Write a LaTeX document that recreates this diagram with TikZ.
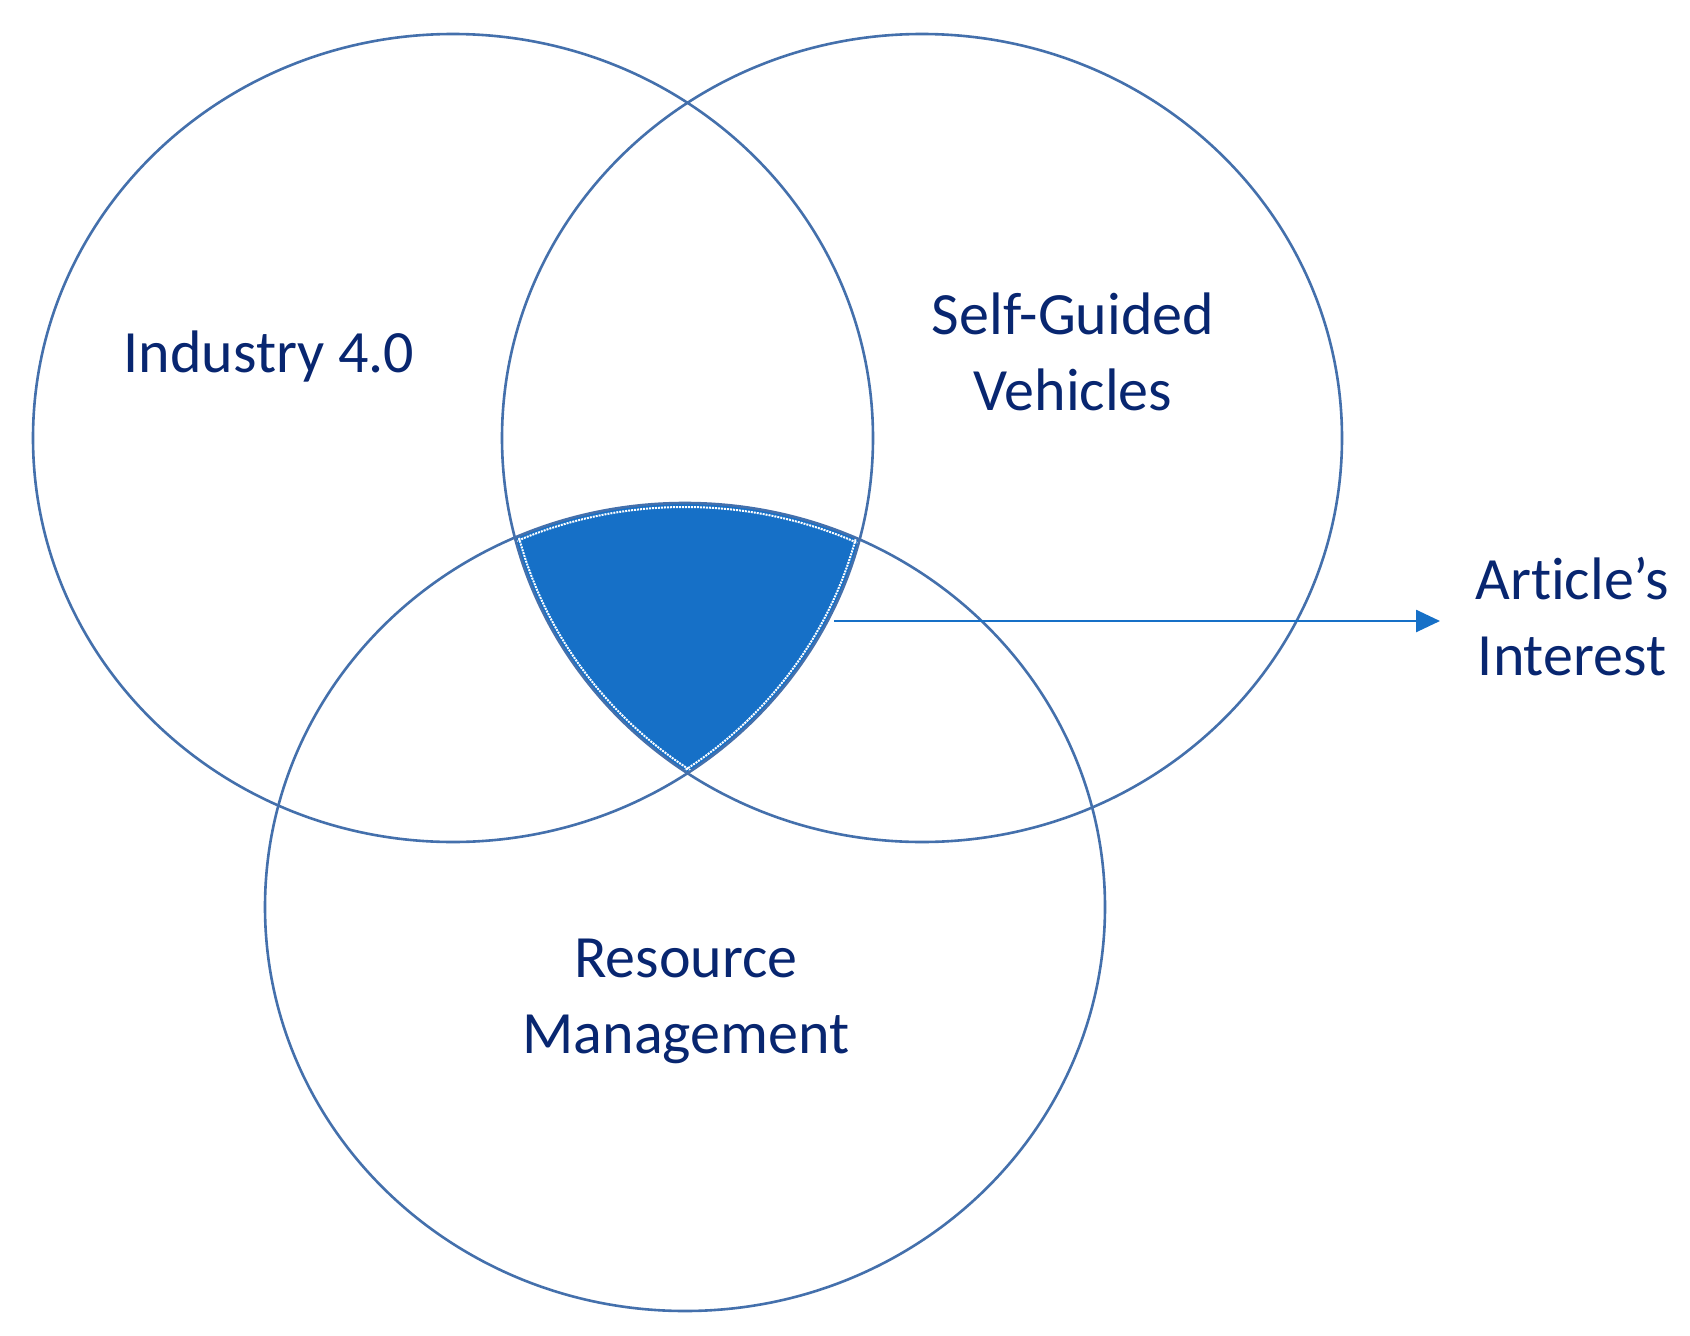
\documentclass[tikz,border=0pt]{standalone}
\usepackage{fontspec}
\setmainfont{Carlito}[Ligatures=NoCommon]
\usetikzlibrary{arrows.meta}
\definecolor{ringblue}{RGB}{68,112,172}
\definecolor{fillblue}{RGB}{22,112,199}
\definecolor{textblue}{RGB}{8,38,112}
\tikzset{
  ring/.style={draw=ringblue, line width=2.6pt},
  lbl/.style={text=textblue, font=\fontsize{60}{76}\selectfont, align=center, anchor=base, inner sep=0pt},
}
\begin{document}
\begin{tikzpicture}[x=1pt,y=-1pt]
\useasboundingbox[fill=white] (0,0) rectangle (1690,1336);
\coordinate (cL) at (453,438);
\coordinate (cR) at (922,438);
\coordinate (cB) at (685,907);
% shaded intersection
\begin{scope}
  \clip (cL) ellipse [x radius=420pt, y radius=404pt];
  \clip (cR) ellipse [x radius=420pt, y radius=404pt];
  \fill[fillblue] (cB) ellipse [x radius=420pt, y radius=404pt];
  \draw[white, line width=2pt, densely dotted] (cL) ellipse [x radius=416pt, y radius=400pt];
  \draw[white, line width=2pt, densely dotted] (cR) ellipse [x radius=416pt, y radius=400pt];
  \draw[white, line width=2pt, densely dotted] (cB) ellipse [x radius=416pt, y radius=400pt];
\end{scope}
% rings
\draw[ring] (cL) ellipse [x radius=420pt, y radius=404pt];
\draw[ring] (cR) ellipse [x radius=420pt, y radius=404pt];
\draw[ring] (cB) ellipse [x radius=420pt, y radius=404pt];
% labels (anchor = baseline of last line)
\node[lbl] (ind) at (269,372) {Industry 4.0};
\node[lbl] (sgv) at (1073,410) {Self-Guided\\Vehicles};
\node[lbl] (res) at (686,1053) {Resource\\Management};
\node[lbl] (art) at (1572,675) {Article’s\\Interest};
% arrow
\coordinate (astart) at (834,621);
\coordinate (aend) at (1440,621);
\draw[fillblue, line width=2.6pt, -{Triangle[length=24pt,width=22pt]}] (astart) -- (aend);
\end{tikzpicture}
\end{document}
